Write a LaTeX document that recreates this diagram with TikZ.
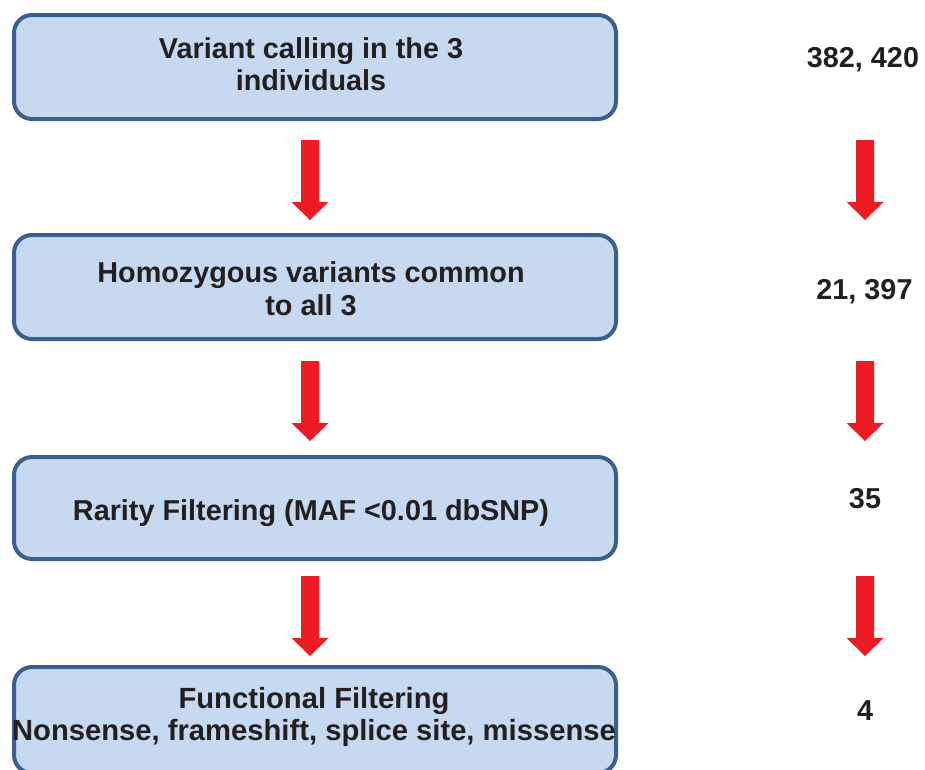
\documentclass[tikz,border=0pt]{standalone}
\usepackage{fontspec}
\setmainfont{Liberation Sans}
\definecolor{boxfill}{HTML}{C6D9F0}
\definecolor{boxline}{HTML}{3A5F8E}
\definecolor{arrowred}{HTML}{ED1C24}
\definecolor{inktext}{HTML}{231F20}

\begin{document}
\begin{tikzpicture}[x=1pt,y=-1pt,
  stepbox/.style={draw=boxline, fill=boxfill, line width=4pt,
    rounded corners=18pt, minimum width=602pt, inner sep=0pt, outer sep=0pt},
  lbl/.style={font=\fontsize{28.8}{32}\selectfont\bfseries, text=inktext,
    align=center, inner sep=0pt},
  count/.style={lbl, anchor=base},
  downarrow/.pic={\fill[arrowred] (-9,0) -- (9,0) -- (9,62) -- (18.5,62)
    -- (0,80) -- (-18.5,62) -- (-9,62) -- cycle;}
]
\useasboundingbox (0,0) rectangle (925,769);

% pipeline steps
\node[stepbox, minimum height=104pt] (b1) at (315,67) {};
\node[stepbox, minimum height=104pt] (b2) at (315,287) {};
\node[stepbox, minimum height=102pt] (b3) at (315,508) {};
\node[stepbox, minimum height=106pt] (b4) at (315,720) {};

\node[lbl] (t1) at (311,64) {Variant calling in the 3\\individuals};
\node[lbl, font=\fontsize{28.8}{33}\selectfont\bfseries] (t2) at (311,289)
  {Homozygous variants common\\to all 3};
\node[lbl, anchor=base] (t3) at (311,520) {Rarity Filtering (MAF <0.01 dbSNP)};
\node[lbl, font=\fontsize{29.2}{32}\selectfont\bfseries] (t4) at (314,717)
  {Functional Filtering\\Nonsense, frameshift, splice site, missense};

% variant counts
\node[count] (c1) at (863,67.2) {382, 420};
\node[count] (c2) at (864.5,299.2) {21, 397};
\node[count] (c3) at (865,508.2) {35};
\node[count] (c4) at (865,720.2) {4};

% block arrows
\pic at (310,140) {downarrow};
\pic at (310,361) {downarrow};
\pic at (310,576) {downarrow};
\pic at (865,140) {downarrow};
\pic at (865,361) {downarrow};
\pic at (865,576) {downarrow};
\end{tikzpicture}
\end{document}
